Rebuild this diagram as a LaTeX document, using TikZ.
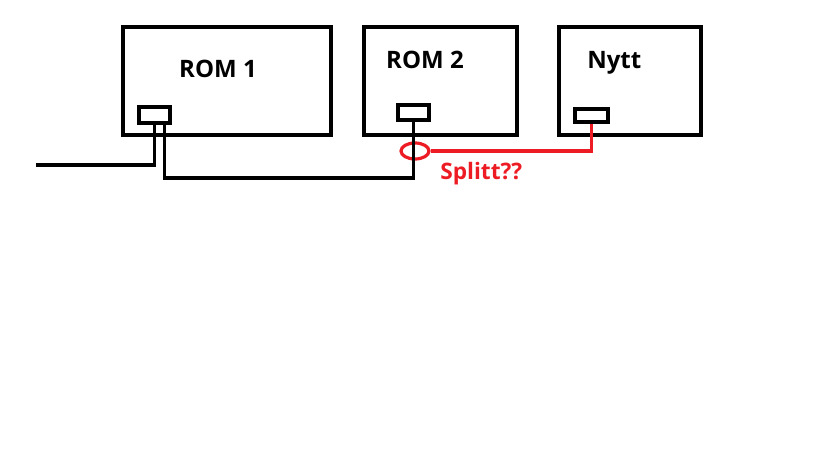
\documentclass[tikz,border=0pt]{standalone}
\usepackage{fontspec}
\setmainfont{Open Sans}
\usepackage{tikz}
\usetikzlibrary{positioning, fit, calc, shapes.geometric}
\definecolor{splitred}{HTML}{ED1C24}

\begin{document}
\begin{tikzpicture}[
    x=0.75pt, y=-0.75pt,
    room/.style={rectangle, draw=black, line width=3.4pt, inner sep=0pt},
    port/.style={rectangle, draw=black, line width=3pt, inner sep=0pt},
    roomlabel/.style={font=\fontsize{18}{20}\selectfont\bfseries, inner sep=0pt},
    wire/.style={draw=black, line width=2.4pt},
    redwire/.style={draw=splitred, line width=2.4pt},
    splitmark/.style={ellipse, draw=splitred, line width=2.4pt, minimum width=21pt, minimum height=12pt, inner sep=0pt}
]
\useasboundingbox (0,0) rectangle (819,460);

% Rooms
\node[room, fit={(123,27) (331,135)}] (rom1) {};
\node[room, fit={(364,27) (517,135)}] (rom2) {};
\node[room, fit={(559,27) (701,135)}] (nytt) {};

\node[roomlabel] (rom1label) at (218,69) {ROM 1};
\node[roomlabel] (rom2label) at (425,60) {ROM 2};
\node[roomlabel, anchor=west] (nyttlabel) at (587,63) {Nytt};

% Ports
\node[port, fit={(139,107) (170,123)}] (p1) {};
\node[port, fit={(398,105) (429,120)}] (p2) {};
\node[port, fit={(575,109) (608,122)}] (p3) {};

% Split
\node[splitmark] (split) at (415,151) {};
\node[font=\fontsize{17}{19}\selectfont\bfseries, text=splitred, anchor=west, inner sep=0pt] (splittext) at (440,174) {Splitt??};

\coordinate (incoming) at (36,165);

% Wires
\draw[wire] (p1.south) -- (p1.south |- incoming) -- (incoming);
\draw[wire] ($(p1.south)+(10,0)$) -- ++(0,53) -| (p2.south);
\draw[redwire] (split.east) -| (p3.south);

\end{tikzpicture}
\end{document}
